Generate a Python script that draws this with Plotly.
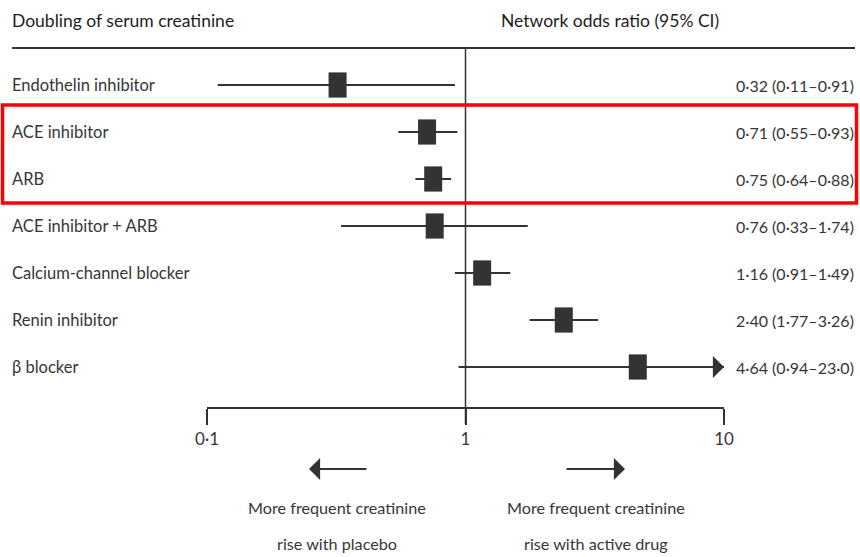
import numpy as np
import plotly.graph_objects as go

# Forest plot data: doubling of serum creatinine, network odds ratios vs placebo
drugs = ["Endothelin inhibitor", "ACE inhibitor", "ARB", "ACE inhibitor + ARB",
         "Calcium-channel blocker", "Renin inhibitor", "β blocker"]
odds_ratio = [0.32, 0.71, 0.75, 0.76, 1.16, 2.40, 4.64]
ci_low = [0.11, 0.55, 0.64, 0.33, 0.91, 1.77, 0.94]
ci_high = [0.91, 0.93, 0.88, 1.74, 1.49, 3.26, 23.0]
or_labels = ["0·32 (0·11–0·91)", "0·71 (0·55–0·93)", "0·75 (0·64–0·88)",
             "0·76 (0·33–1·74)", "1·16 (0·91–1·49)", "2·40 (1·77–3·26)",
             "4·64 (0·94–23·0)"]
tick_vals = [0.1, 1, 10]
tick_text = ["0·1", "1", "10"]

X_MIN, X_MAX = 0.1, 10
W, H = 860, 557
FONT = "Lato, Roboto, sans-serif"
INK = "#333333"
TXT = "#363636"

rows = list(range(len(drugs)))

fig = go.Figure()

# confidence-interval whiskers (clipped to the axis range; overflow gets an arrow)
for i, lo, hi in zip(rows, ci_low, ci_high):
    fig.add_trace(go.Scatter(
        x=[lo, min(hi, X_MAX)], y=[i, i], mode="lines",
        line=dict(color=INK, width=2), hoverinfo="skip", showlegend=False))

# point estimates as filled blocks
fig.add_trace(go.Scatter(
    x=odds_ratio, y=rows, mode="markers",
    marker=dict(symbol="line-ns", size=18,
                line=dict(color=INK, width=18)),
    hoverinfo="skip", showlegend=False))

annotations = []
px_x = lambda p: p / W
px_y = lambda p: 1 - p / H

for i, hi in zip(rows, ci_high):
    if hi > X_MAX:
        annotations.append(dict(
            x=np.log10(X_MAX), y=i, xref="x", yref="y",
            ax=-20, ay=0, axref="pixel", ayref="pixel",
            showarrow=True, arrowhead=1, arrowsize=1.85, arrowwidth=2,
            arrowcolor=INK, text=""))

for i, name, lab in zip(rows, drugs, or_labels):
    annotations.append(dict(x=px_x(10), y=i, xref="paper", yref="y",
                            xanchor="left", yanchor="middle", text=name,
                            showarrow=False, font=dict(size=16.5, color=TXT, family=FONT)))
    annotations.append(dict(x=px_x(856), y=i, xref="paper", yref="y",
                            xanchor="right", yanchor="middle", text=lab,
                            showarrow=False, font=dict(size=16, color=TXT, family=FONT)))

# column headers
annotations.append(dict(x=px_x(10), y=px_y(20), xref="paper", yref="paper",
                        xanchor="left", yanchor="middle",
                        text="Doubling of serum creatinine", showarrow=False,
                        font=dict(size=17.5, color="#1e1e1e", family=FONT)))
annotations.append(dict(x=px_x(610), y=px_y(20), xref="paper", yref="paper",
                        xanchor="center", yanchor="middle",
                        text="Network odds ratio (95% CI)", showarrow=False,
                        font=dict(size=17.5, color="#1e1e1e", family=FONT)))

# direction arrows and captions under the axis
annotations.append(dict(x=px_x(309), y=px_y(469), xref="paper", yref="paper",
                        ax=59, ay=0, showarrow=True, arrowhead=1, arrowsize=1.85,
                        arrowwidth=2, arrowcolor=INK, text=""))
annotations.append(dict(x=px_x(625), y=px_y(469), xref="paper", yref="paper",
                        ax=-60, ay=0, showarrow=True, arrowhead=1, arrowsize=1.85,
                        arrowwidth=2, arrowcolor=INK, text=""))
for cx, lines in [(337, ["More frequent creatinine", "rise with placebo"]),
                  (596, ["More frequent creatinine", "rise with active drug"])]:
    for yy, t in zip([507, 543], lines):
        annotations.append(dict(x=px_x(cx), y=px_y(yy), xref="paper", yref="paper",
                                xanchor="center", yanchor="middle", text=t,
                                showarrow=False,
                                font=dict(size=16.2, color=TXT, family=FONT)))

shapes = [
    # rule under the headers
    dict(type="line", xref="paper", yref="paper", x0=px_x(12), x1=px_x(855),
         y0=px_y(48), y1=px_y(48), line=dict(color=INK, width=2)),
    # line of no effect
    dict(type="line", xref="x", yref="paper", x0=1, x1=1,
         y0=px_y(48), y1=px_y(424), line=dict(color=INK, width=1.5)),
    # highlight box around ACE inhibitor and ARB
    dict(type="rect", xref="paper", yref="paper", x0=px_x(2.5), x1=px_x(856.5),
         y0=px_y(105), y1=px_y(203), line=dict(color="#ff0000", width=3.5)),
]

row0_px, row_step = 85, 47
fig.update_layout(
    width=W, height=H, margin=dict(l=0, r=0, t=0, b=0, autoexpand=False),
    paper_bgcolor="white", plot_bgcolor="white",
    xaxis=dict(type="log", domain=[207 / W, 724 / W],
               range=[np.log10(X_MIN), np.log10(X_MAX)],
               anchor="free", position=px_y(408), automargin=False,
               showline=True, linecolor=INK, linewidth=1.5,
               ticks="outside", ticklen=16, tickwidth=1.5, tickcolor=INK,
               tickvals=tick_vals, ticktext=tick_text,
               tickfont=dict(size=17, color=TXT, family=FONT),
               showgrid=False, zeroline=False),
    yaxis=dict(range=[(H - row0_px) / row_step, -row0_px / row_step],
               visible=False, showgrid=False, zeroline=False, automargin=False),
    annotations=annotations, shapes=shapes,
)

fig.write_html("out.html")
